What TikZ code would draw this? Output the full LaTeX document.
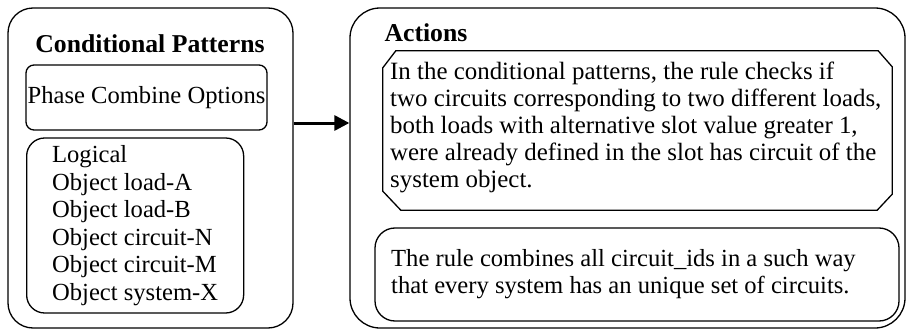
\documentclass[tikz,border=0pt]{standalone}
\usepackage{fontspec}
\setmainfont{Liberation Serif}
\usetikzlibrary{arrows.meta}
\begin{document}
\begin{tikzpicture}[x=1pt,y=-1pt,
  box/.style={draw,line width=1.3pt,rounded corners=#1,inner sep=0pt},
  txt/.style={font=\fontsize{24.6}{27.5}\selectfont,align=left},
  ttl/.style={font=\fontsize{25.7}{28}\selectfont\bfseries},
  arrowline/.style={line width=3pt,-{Triangle[length=15pt,width=15pt]}}]
\useasboundingbox (0,0) rectangle (906,332);
% left column
\node[box=25pt,minimum width=285pt,minimum height=320pt] (left) at (150.5,168) {};
\node[ttl] (ctitle) at (150,44) {Conditional Patterns};
\node[box=8pt,minimum width=241pt,minimum height=65pt,txt] (phase) at (146.5,97.5) {Phase Combine Options};
\node[box=18pt,minimum width=217pt,minimum height=175pt,txt,inner xsep=17pt,anchor=west] (list) at (26,225.5)
 {Logical\\Object load-A\\Object load-B\\Object circuit-N\\Object circuit-M\\Object system-X};
% right column
\node[box=30pt,minimum width=555pt,minimum height=320pt] (right) at (627.5,168) {};
\node[ttl,anchor=west] (atitle) at (381,33) {Actions};
\node[minimum width=509pt,minimum height=159pt,inner sep=0pt] (cond) at (637.5,130.5) {};
\draw[line width=1.3pt]
  ([xshift=13pt]cond.north west) -- ([xshift=-14pt]cond.north east)
  -- ([yshift=-16pt]cond.north east) -- ([yshift=16pt]cond.south east)
  -- ([xshift=-15pt]cond.south east) -- ([xshift=18pt]cond.south west)
  -- ([yshift=19pt]cond.south west) -- ([yshift=-17pt]cond.north west) -- cycle;
\node[txt,font=\fontsize{24.9}{27}\selectfont,anchor=west,inner sep=0pt] (condtxt) at (390,127)
 {In the conditional patterns, the rule checks if\\
  two circuits corresponding to two different loads,\\
  both loads with alternative slot value greater 1,\\
  were already defined in the slot has circuit of the\\
  system object.};
\node[box=20pt,minimum width=524pt,minimum height=93pt] (comb) at (637,274.5) {};
\node[txt,anchor=west,inner sep=0pt] (combtxt) at (391,274)
 {The rule combines all circuit\_ids in a such way\\
  that every system has an unique set of circuits.};
% connector
\coordinate (a1) at (left.east |- 0,123);
\coordinate (a2) at (right.west |- 0,123);
\draw[arrowline] (a1) -- (a2);
\end{tikzpicture}
\end{document}
